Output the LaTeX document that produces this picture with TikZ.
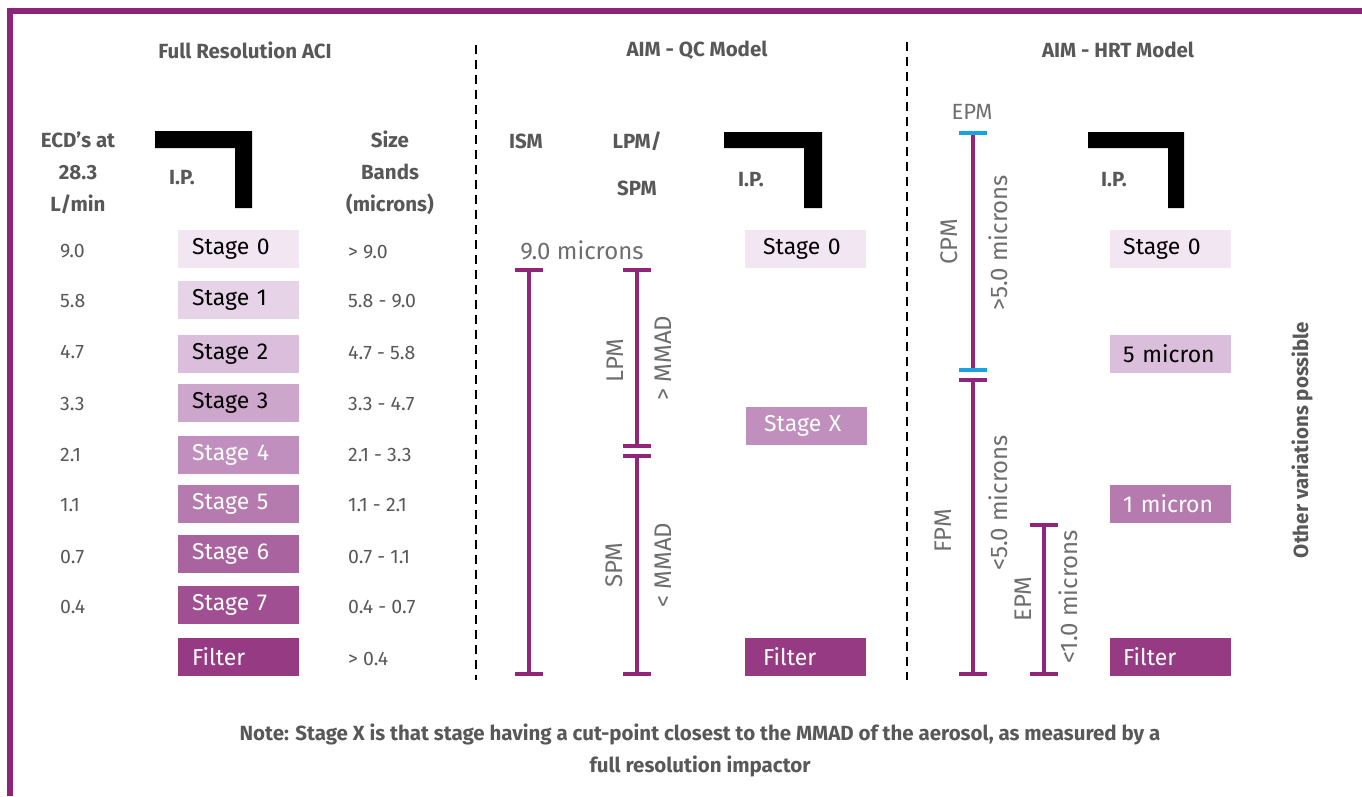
\documentclass[tikz,border=0pt]{standalone}
\usepackage{fontspec}
\setmainfont{Fira Sans}
\definecolor{framec}{HTML}{8E2479}
\definecolor{barc}{HTML}{90267C}
\definecolor{txt}{HTML}{585858}
\definecolor{lite}{HTML}{6E6E6E}
\definecolor{capblue}{HTML}{1BA3E0}
\definecolor{s0}{HTML}{F1E6F2}
\definecolor{s1}{HTML}{E6D3E7}
\definecolor{s2}{HTML}{DBBEDB}
\definecolor{s3}{HTML}{CDA6CC}
\definecolor{s4}{HTML}{C18FBD}
\definecolor{s5}{HTML}{B57BAF}
\definecolor{s6}{HTML}{A9639F}
\definecolor{s7}{HTML}{A04F93}
\definecolor{sf}{HTML}{963A84}
\tikzset{
  head/.style={font=\bfseries\fontsize{20.5}{32}\selectfont, text=txt, align=center, inner sep=0},
  val/.style={font=\fontsize{19.5}{22}\selectfont, text=txt, anchor=west, inner sep=0},
  stagebox/.style={anchor=west, minimum height=38pt, text width=93pt, inner xsep=14pt, inner ysep=0pt,
     align=left, font=\fontsize{23}{26}\selectfont},
  darkt/.style={text=black},
  lightt/.style={text=white},
  lab/.style={font=\fontsize{24}{28}\selectfont, text=lite, inner sep=0},
  rot/.style={lab, rotate=90},
  barline/.style={draw=barc, line width=4.5pt},
  capline/.style={draw=barc, line width=3.5pt},
  bluecap/.style={draw=capblue, line width=3.5pt},
  ipshape/.style={fill=black},
  divider/.style={draw=black, line width=2.5pt, dash pattern=on 9pt off 6pt},
}
\begin{document}
\begin{tikzpicture}[x=1pt,y=-1pt]
\useasboundingbox (0,0) rectangle (1362,796);
\fill[white] (0,0) rectangle (1362,796);
\draw[framec, line width=6pt] (9.5,796) -- (9.5,11) -- (1362,11);

% headings
\node[head] (h1) at (245,50) {Full Resolution ACI};
\node[head] (h2) at (697,50) {AIM - QC Model};
\node[head] (h3) at (1118,50) {AIM - HRT Model};

% dividers
\coordinate (d1t) at (476,45); \coordinate (d1b) at (476,680);
\coordinate (d2t) at (907,42); \coordinate (d2b) at (907,680);
\draw[divider] (d1t) -- (d1b);
\draw[divider] (d2t) -- (d2b);

% ===== Full resolution ACI =====
\node[head] (ecd) at (78,173) {ECD’s at\\28.3\\L/min};
\node[head] (sizeb) at (390,173) {Size\\Bands\\(microns)};
\node[head] (ip1) at (182,178) {I.P.};
\fill[ipshape] (155,131) -- (252,131) -- (252,208) -- (235,208) -- (235,148) -- (155,148) -- cycle;

\node[stagebox, fill=s0, darkt] (a0) at (178,249) {\mbox{Stage 0}};
\node[stagebox, fill=s1, darkt] (a1) at (178,300) {\mbox{Stage 1}};
\node[stagebox, fill=s2, darkt] (a2) at (178,354) {\mbox{Stage 2}};
\node[stagebox, fill=s3, darkt] (a3) at (178,403) {\mbox{Stage 3}};
\node[stagebox, fill=s4, lightt] (a4) at (178,455) {\mbox{Stage 4}};
\node[stagebox, fill=s5, lightt] (a5) at (178,504) {\mbox{Stage 5}};
\node[stagebox, fill=s6, lightt] (a6) at (178,554) {\mbox{Stage 6}};
\node[stagebox, fill=s7, lightt] (a7) at (178,605) {\mbox{Stage 7}};
\node[stagebox, fill=sf, lightt] (af) at (178,657) {\mbox{Filter}};

\node[val] (e0) at (60,251) {9.0};
\node[val] (e1) at (60,301) {5.8};
\node[val] (e2) at (60,352) {4.7};
\node[val] (e3) at (60,404) {3.3};
\node[val] (e4) at (60,455) {2.1};
\node[val] (e5) at (60,505) {1.1};
\node[val] (e6) at (60,557) {0.7};
\node[val] (e7) at (60,607) {0.4};

\node[val] (b0) at (348,252) {> 9.0};
\node[val] (b1) at (348,301) {5.8 - 9.0};
\node[val] (b2) at (348,353) {4.7 - 5.8};
\node[val] (b3) at (348,404) {3.3 - 4.7};
\node[val] (b4) at (348,455) {2.1 - 3.3};
\node[val] (b5) at (348,505) {1.1 - 2.1};
\node[val] (b6) at (348,557) {0.7 - 1.1};
\node[val] (b7) at (348,607) {0.4 - 0.7};
\node[val] (bf) at (348,659) {> 0.4};

% ===== AIM - QC =====
\node[head] (ism) at (526,141) {ISM};
\node[head] (lpmh) at (637,141) {LPM/};
\node[head] (spmh) at (637,188) {SPM};
\node[head] (ip2) at (751,180) {I.P.};
\fill[ipshape] (724,132) -- (822,132) -- (822,208) -- (804,208) -- (804,148) -- (724,148) -- cycle;

\node[lab] (nine) at (582,250) {9.0 microns};

\node[stagebox, fill=s0, darkt, inner xsep=18pt, text width=85pt] (q0) at (745,249) {\mbox{Stage 0}};
\node[stagebox, fill=s4, lightt, inner xsep=18pt, text width=85pt] (qx) at (746,426) {\mbox{Stage X}};
\node[stagebox, fill=sf, lightt, inner xsep=18pt, text width=85pt] (qf) at (745,657) {\mbox{Filter}};

% ISM bar
\coordinate (ismT) at (529,270); \coordinate (ismB) at (529,674);
\draw[barline] (ismT) -- (ismB);
\draw[capline] ([xshift=-14pt]ismT) -- ([xshift=14pt]ismT);
\draw[capline] ([xshift=-14pt]ismB) -- ([xshift=14pt]ismB);
% LPM bar
\coordinate (lpmT) at (637,270); \coordinate (lpmB) at (637,446);
\draw[barline] (lpmT) -- (lpmB);
\draw[capline] ([xshift=-14pt]lpmT) -- ([xshift=14pt]lpmT);
\draw[capline] ([xshift=-14pt]lpmB) -- ([xshift=14pt]lpmB);
% SPM bar
\coordinate (spmT) at (637,456); \coordinate (spmB) at (637,674);
\draw[barline] (spmT) -- (spmB);
\draw[capline] ([xshift=-14pt]spmT) -- ([xshift=14pt]spmT);
\draw[capline] ([xshift=-14pt]spmB) -- ([xshift=14pt]spmB);

\node[rot] (lpml) at (615,361) {LPM};
\node[rot] (gmmad) at (663,358) {> MMAD};
\node[rot] (spml) at (614,565) {SPM};
\node[rot] (lmmad) at (663,565) {< MMAD};

% ===== AIM - HRT =====
\node[lab, font=\fontsize{22}{26}\selectfont] (epmtop) at (972,112) {EPM};
\node[head] (ip3) at (1114,180) {I.P.};
\fill[ipshape] (1088,132) -- (1184,132) -- (1184,208) -- (1168,208) -- (1168,148) -- (1088,148) -- cycle;

\coordinate (cpmT) at (973,133); \coordinate (cpmB) at (973,370);
\draw[barline] (cpmT) -- (cpmB);
\draw[bluecap] ([xshift=-14pt]cpmT) -- ([xshift=14pt]cpmT);
\draw[bluecap] ([xshift=-14pt]cpmB) -- ([xshift=14pt]cpmB);
\coordinate (fpmT) at (973,380); \coordinate (fpmB) at (973,674);
\draw[barline] (fpmT) -- (fpmB);
\draw[capline] ([xshift=-14pt]fpmT) -- ([xshift=14pt]fpmT);
\draw[capline] ([xshift=-14pt]fpmB) -- ([xshift=14pt]fpmB);
\coordinate (epmT) at (1044,525); \coordinate (epmB) at (1044,674);
\draw[barline] (epmT) -- (epmB);
\draw[capline] ([xshift=-14pt]epmT) -- ([xshift=14pt]epmT);
\draw[capline] ([xshift=-14pt]epmB) -- ([xshift=14pt]epmB);

\node[rot] (cpml) at (949,242) {CPM};
\node[rot] (g5) at (998,243) {>5.0 microns};
\node[rot] (fpml) at (943,531) {FPM};
\node[rot] (l5) at (998,503) {<5.0 microns};
\node[rot] (epml) at (1023,599) {EPM};
\node[rot] (l1) at (1068,597) {<1.0 microns};

\node[stagebox, fill=s0, darkt, inner xsep=13pt, text width=95pt] (r0) at (1110,249) {\mbox{Stage 0}};
\node[stagebox, fill=s2, darkt, inner xsep=13pt, text width=95pt] (r5) at (1110,354) {\mbox{5 micron}};
\node[stagebox, fill=s5, lightt, inner xsep=13pt, text width=95pt] (r1) at (1110,504) {\mbox{1 micron}};
\node[stagebox, fill=sf, lightt, inner xsep=13pt, text width=95pt] (rf) at (1110,657) {\mbox{Filter}};

\node[head, rotate=90] (other) at (1302,440) {Other variations possible};

% note
\node[head] (note) at (700,750) {Note: Stage X is that stage having a cut-point closest to the MMAD of the aerosol, as measured by a\\full resolution impactor};
\end{tikzpicture}
\end{document}
